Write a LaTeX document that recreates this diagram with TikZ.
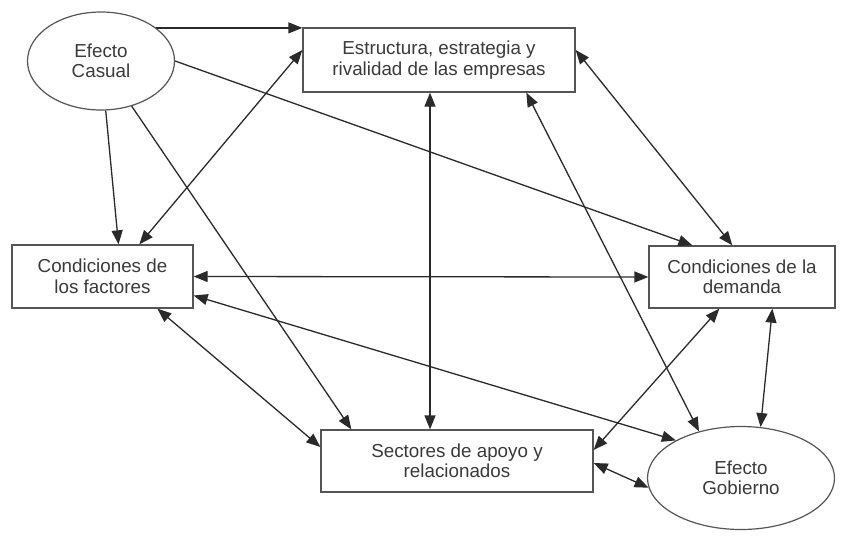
\documentclass[tikz,border=0pt]{standalone}
\usepackage{fontspec}
\setmainfont{Liberation Sans}
\usetikzlibrary{shapes.geometric,arrows.meta,calc}
\definecolor{boxgray}{HTML}{555555}
\definecolor{linegray}{HTML}{2A2A2A}
\definecolor{txtgray}{HTML}{3A3A3A}
\begin{document}
\begin{tikzpicture}[x=1pt,y=-1pt,
  lbl/.style={align=center,inner sep=0pt,text=txtgray,font=\fontsize{18.8}{20.5}\selectfont},
  box/.style={lbl,draw=boxgray,line width=1.3pt,rectangle},
  oval/.style={lbl,draw=boxgray,line width=1.2pt,ellipse},
  arr/.style={draw=linegray,line width=1.3pt,-{Triangle[length=14pt,width=11pt]}},
  darr/.style={draw=linegray,line width=1.3pt,{Triangle[length=14pt,width=11pt]}-{Triangle[length=14pt,width=11pt]}}]
\fill[white] (0,0) rectangle (845,539);
\useasboundingbox (0,0) rectangle (845,539);

\node[oval,minimum width=147pt,minimum height=98pt] (cas) at (101,61) {Efecto\\Casual};
\node[box,minimum width=272pt,minimum height=64pt] (est) at (439,60) {Estructura, estrategia y\\rivalidad de las empresas};
\node[box,minimum width=181pt,minimum height=63pt] (fac) at (102.5,276.5) {Condiciones de\\los factores};
\node[box,minimum width=186pt,minimum height=62pt] (dem) at (742,277) {Condiciones de la\\demanda};
\node[box,minimum width=272pt,minimum height=62pt] (sec) at (457,461) {Sectores de apoyo y\\relacionados};
\node[oval,minimum width=187pt,minimum height=103pt] (gob) at (741,478) {Efecto\\Gobierno};

\draw[arr] (cas.31) -- (cas.31 -| est.west);
\draw[darr] ($(fac.north west)+(128,0)$) -- ($(est.west)+(0,-10)$);
\draw[arr] (cas) -- ($(fac.north)+(16,0)$);
\draw[arr] (cas) -- ($(sec.north west)+(31,0)$);
\draw[arr] (cas.east) -- ($(dem.north west)+(44,0)$);
\draw[darr] ($(est.east)+(0,-10)$) -- ($(dem.north west)+(84,0)$);
\draw[darr] ($(est.south)+(-9,0)$) -- ($(sec.north)+(-27,0)$);
\draw[darr] ($(est.south west)+(224,0)$) -- (gob.132);
\draw[darr] (fac.east) -- (dem.west);
\draw[darr] ($(fac.east)+(0,19)$) -- (gob.150);
\draw[darr] ($(fac.south west)+(146,0)$) -- ($(sec.west)+(0,-14)$);
\draw[darr] ($(sec.east)+(0,-11)$) -- ($(dem.south west)+(71,0)$);
\draw[darr] ($(dem.south west)+(124,0)$) -- (gob.69);
\draw[darr] ($(sec.east)+(0,2)$) -- (gob.186);
\end{tikzpicture}
\end{document}
